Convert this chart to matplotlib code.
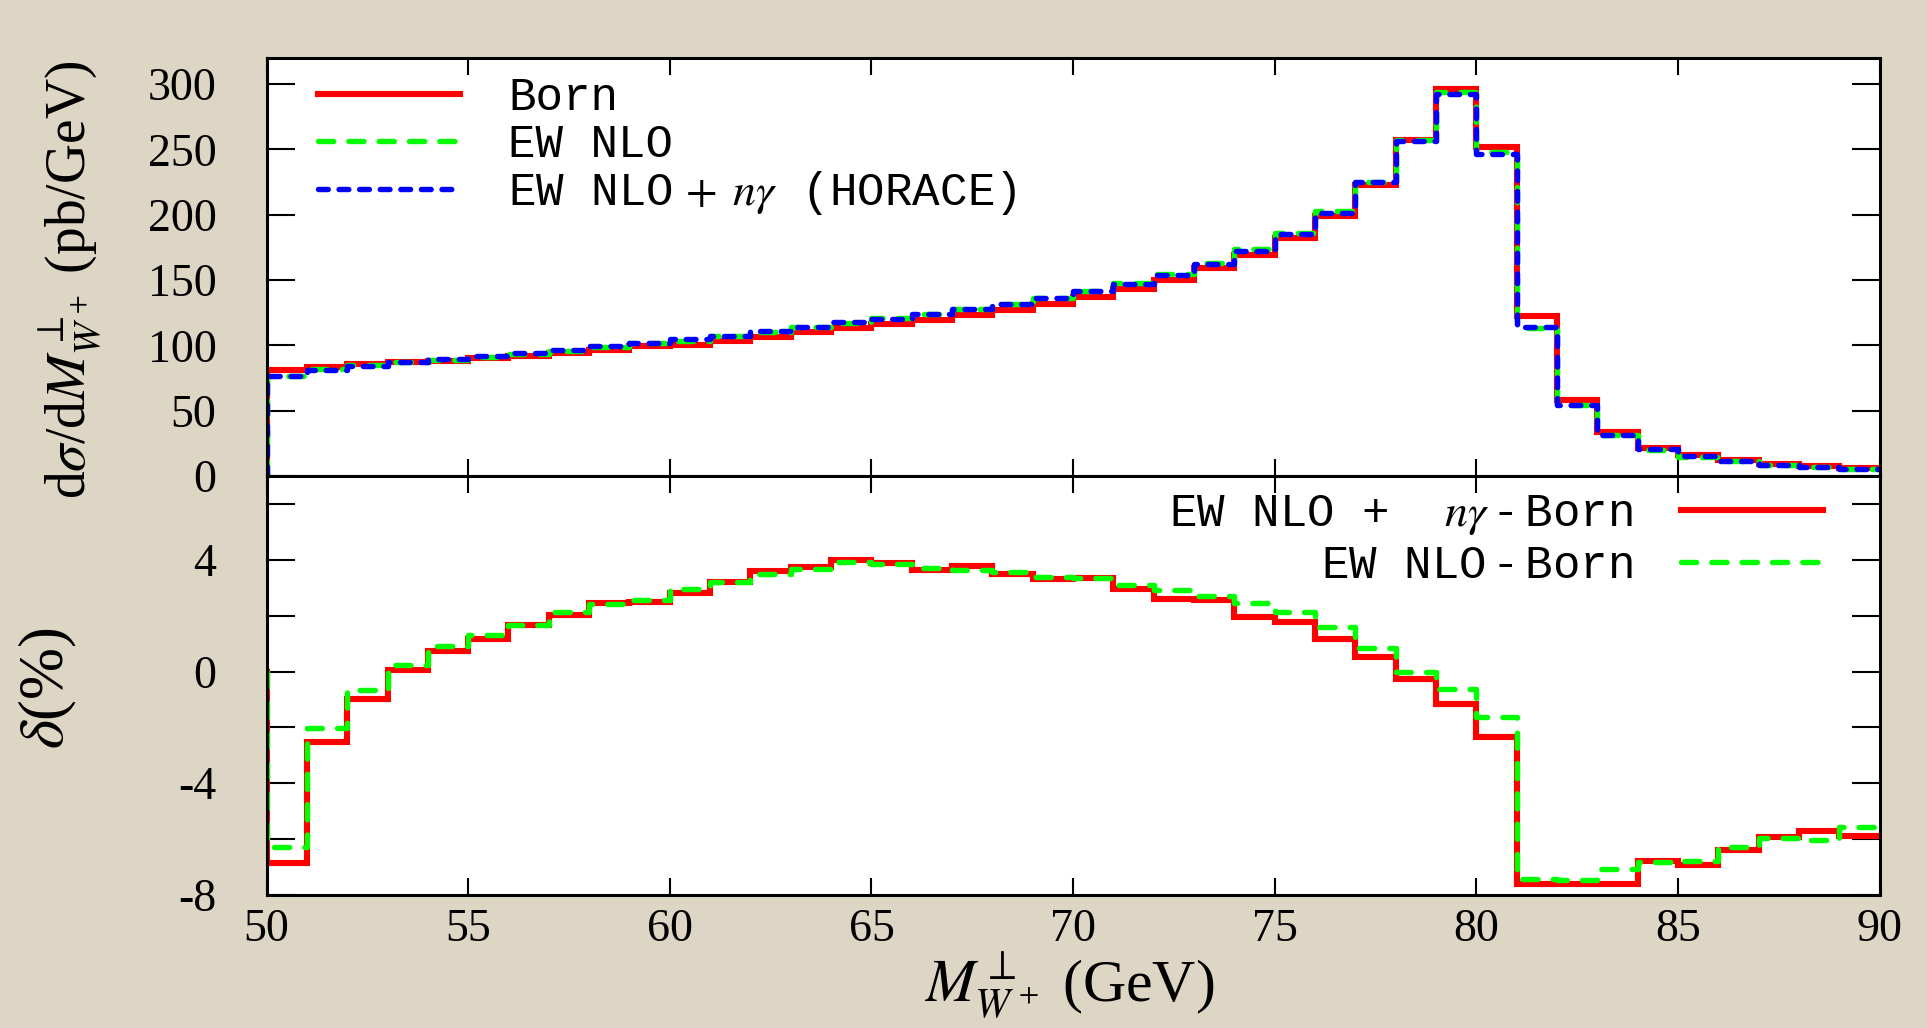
import numpy as np
import matplotlib
matplotlib.use('Agg')
import matplotlib.pyplot as plt
from matplotlib.ticker import MultipleLocator

# transverse mass bins, 1 GeV wide, 50 -> 90 GeV
edges = np.arange(50, 91, 1)

# dsigma/dM (pb/GeV) per bin
born = [81.3, 83.4, 85.7, 86.9, 88.2, 90.0, 92.0, 94.0, 96.6, 99.2,
        100.4, 103.5, 106.5, 109.9, 113.0, 116.3, 119.6, 123.4, 127.3, 131.9,
        137.0, 143.0, 150.2, 159.0, 169.3, 182.1, 199.4, 222.9, 257.3, 296.1,
        252.2, 122.1, 58.4, 33.4, 21.4, 15.8, 11.9, 9.1, 7.3, 6.0]
ew_nlo = [76.2, 81.7, 85.1, 87.1, 89.0, 91.2, 93.5, 96.0, 98.9, 101.7,
          103.4, 106.8, 110.2, 113.9, 117.4, 120.8, 124.0, 127.9, 131.8, 136.4,
          141.6, 147.4, 154.6, 163.3, 173.4, 186.0, 202.6, 224.8, 257.3, 294.2,
          248.1, 113.0, 54.0, 31.0, 19.9, 14.7, 11.2, 8.6, 6.9, 5.7]
ew_nlo_ngamma = [76.2, 81.3, 84.4, 87.2, 89.5, 92.0, 94.3, 96.6, 99.2, 101.7,
                 104.8, 107.4, 110.6, 114.0, 117.6, 120.1, 123.7, 127.7, 131.6, 136.2,
                 141.7, 147.3, 154.1, 162.4, 172.4, 185.2, 201.7, 224.7, 256.8, 292.2,
                 246.3, 113.7, 54.0, 31.1, 20.6, 15.0, 11.2, 8.6, 6.8, 5.5]

# relative corrections w.r.t. Born (%)
delta_ngamma = [-6.87, -2.51, -1.00, 0.04, 0.72, 1.16, 1.65, 2.04, 2.44, 2.50,
                2.81, 3.19, 3.58, 3.73, 3.98, 3.87, 3.62, 3.79, 3.50, 3.32,
                3.33, 2.96, 2.59, 2.57, 1.95, 1.77, 1.16, 0.51, -0.27, -1.18,
                -2.33, -7.62, -7.62, -7.62, -6.77, -6.93, -6.39, -5.91, -5.72, -5.88]
delta_nlo = [-6.27, -2.01, -0.67, 0.24, 0.90, 1.30, 1.65, 2.13, 2.40, 2.57,
             2.96, 3.19, 3.50, 3.68, 3.92, 3.86, 3.69, 3.63, 3.55, 3.40,
             3.35, 3.08, 2.90, 2.69, 2.44, 2.13, 1.59, 0.85, -0.01, -0.63,
             -1.62, -7.44, -7.47, -7.08, -6.81, -6.79, -6.27, -5.95, -6.03, -5.56]

bg = '#ddd6c5'
plt.rcParams['font.family'] = 'Liberation Serif'
plt.rcParams['mathtext.fontset'] = 'stix'
plt.rcParams['axes.unicode_minus'] = False

fig = plt.figure(figsize=(19.27, 10.28), dpi=100, facecolor=bg)
ax1 = fig.add_axes([0.1383, 0.5370, 0.8372, 0.4066])
ax2 = fig.add_axes([0.1383, 0.1294, 0.8372, 0.4076])


def hist_line(ax, vals, **kw):
    # histogram outline, rising from zero at the first edge
    x = np.concatenate([[edges[0]], edges])
    y = np.concatenate([[0], vals, [vals[-1]]])
    return ax.plot(x, y, drawstyle='steps-post', **kw)


red = dict(color='#ff0000', lw=4.4, solid_joinstyle='miter')
green = dict(color='#00ff00', lw=3.9, dashes=(2.8, 2.8), dash_capstyle='round')
blue = dict(color='#0000ff', lw=3.9, dashes=(1.8, 2.0), dash_capstyle='round')

hist_line(ax1, born, label='Born', **red)
hist_line(ax1, ew_nlo, label='EW NLO', **green)
hist_line(ax1, ew_nlo_ngamma, label=r'EW NLO$\,+\;n\gamma$ (HORACE)', **blue)

hist_line(ax2, delta_ngamma, label=r'EW NLO +  $n\gamma\,$-$\,$Born', **red)
hist_line(ax2, delta_nlo, label=r'EW NLO$\,$-$\,$Born', **green)

for ax in (ax1, ax2):
    ax.set_facecolor('white')
    ax.set_xlim(50, 90)
    ax.xaxis.set_major_locator(MultipleLocator(5))
    ax.tick_params(direction='in', top=True, right=True, width=1.5, colors='black')
    ax.tick_params(axis='x', length=12, labelsize=33, pad=10)
    ax.tick_params(axis='y', which='both', length=20, width=1.5, direction='in',
                   right=True, labelsize=33, pad=36)
    for s in ax.spines.values():
        s.set_linewidth(2.2)

ax1.set_ylim(0, 320)
ax1.set_yticks(range(0, 301, 50))
ax1.tick_params(axis='x', labelbottom=False)

ax2.set_ylim(-8, 7)
ax2.set_yticks([-8, -4, 0, 4])
ax2.yaxis.set_minor_locator(MultipleLocator(2))

ax1.legend(loc='upper left', bbox_to_anchor=(0.032, 0.956), frameon=False,
           prop={'family': 'Liberation Mono', 'size': 33}, handlelength=3.1,
           handletextpad=1.05, labelspacing=0.05, borderpad=0, borderaxespad=0)
ax2.legend(loc='upper right', bbox_to_anchor=(0.965, 0.962), frameon=False,
           markerfirst=False, prop={'family': 'Liberation Mono', 'size': 33},
           handlelength=3.1, handletextpad=1.05, labelspacing=0.15,
           borderpad=0, borderaxespad=0)

fig.text(0.036, 0.728, r'd$\sigma$/d$M^{\perp}_{W^+}$ (pb/GeV)', rotation=90,
         ha='center', va='center', fontsize=40)
fig.text(0.025, 0.331, r'$\delta$(%)', rotation=90, ha='center', va='center', fontsize=45)
fig.text(0.555, 0.041, r'$M^{\perp}_{W^+}$ (GeV)', ha='center', va='center', fontsize=43)

fig.savefig('out.png', dpi=100, facecolor=bg)
